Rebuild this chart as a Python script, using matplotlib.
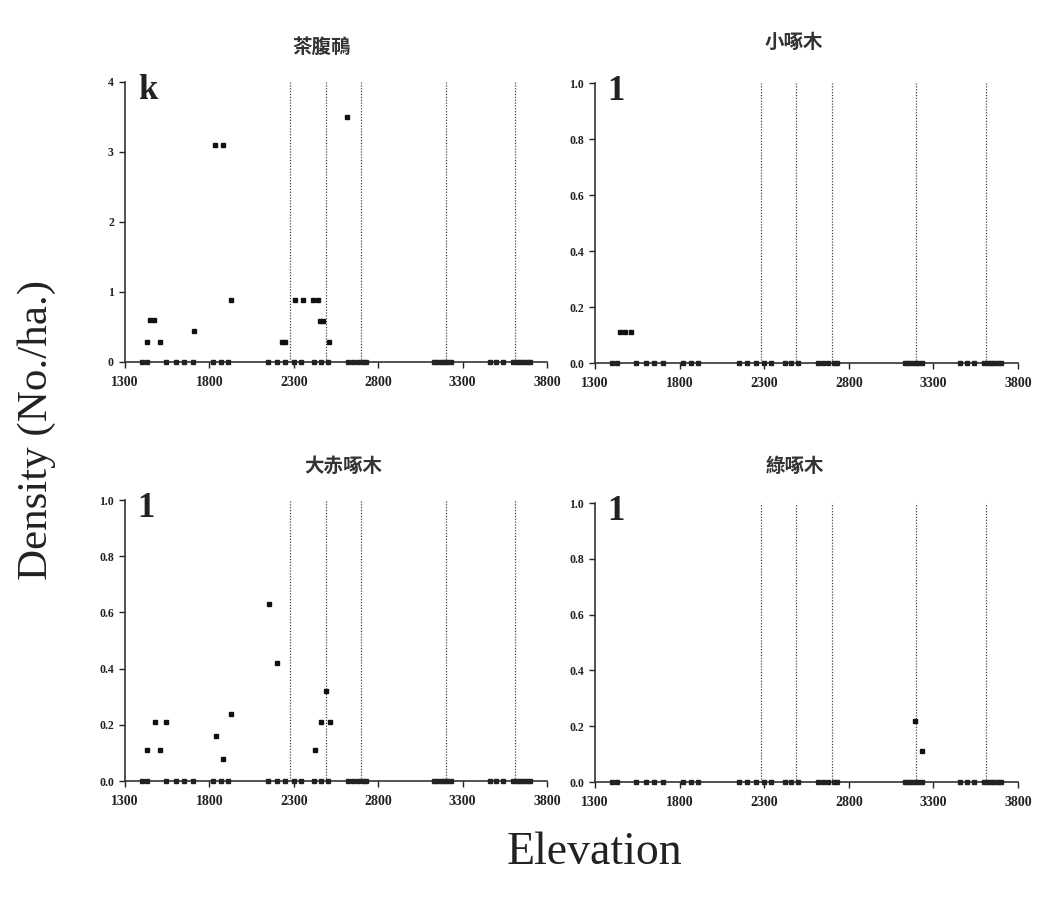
import numpy as np
import matplotlib.pyplot as plt

# survey sites where each species was recorded as absent (density 0)
zero_sites = [1400, 1430, 1540, 1600, 1650, 1700, 1820, 1870, 1910, 2150, 2200,
              2250, 2300, 2340, 2420, 2460, 2500, 2620, 2650, 2680, 2710, 2730,
              3130, 3150, 3170, 3190, 3210, 3230, 3460, 3500, 3540, 3600, 3620,
              3640, 3660, 3680, 3700]

# zone boundaries (dotted lines)
zone_lines = [2280, 2490, 2700, 3200, 3610]

titles = ['茶腹鳾', '小啄木', '大赤啄木', '綠啄木']
letters = ['k', '1', '1', '1']

nuthatch_x = [1428, 1448, 1470, 1507, 1710, 1833, 1879, 1926, 2228, 2248,
              2307, 2356, 2416, 2445, 2455, 2475, 2511, 2617]
nuthatch_y = [0.29, 0.6, 0.6, 0.29, 0.44, 3.1, 3.1, 0.88, 0.29, 0.29,
              0.88, 0.88, 0.88, 0.88, 0.59, 0.59, 0.29, 3.5]

pygmy_x = [1450, 1480, 1510]
pygmy_y = [0.11, 0.11, 0.11]

spotted_x = [1428, 1478, 1507, 1541, 1839, 1882, 1928, 2153, 2202, 2426,
             2461, 2489, 2514]
spotted_y = [0.11, 0.21, 0.11, 0.21, 0.16, 0.08, 0.24, 0.63, 0.42, 0.11,
             0.21, 0.32, 0.21]

green_x = [3192, 3231]
green_y = [0.22, 0.11]

series = [(nuthatch_x, nuthatch_y), (pygmy_x, pygmy_y),
          (spotted_x, spotted_y), (green_x, green_y)]
ymax = [4, 1.0, 1.0, 1.0]
xticks = [1300, 1800, 2300, 2800, 3300, 3800]

plt.rcParams['font.family'] = ['Liberation Serif', 'DejaVu Serif']
cjk = ['Noto Sans CJK TC', 'DejaVu Sans']

fig = plt.figure(figsize=(10.61, 8.97), dpi=100)
W, H = 1061, 897
# pixel boxes: left, top, right, bottom
boxes = [(125, 82, 547, 362), (595, 83, 1018, 363),
         (125, 500, 547, 781), (595, 503, 1018, 782)]
# title centres in pixels
title_pos = [(322, 47), (794, 42), (343, 466), (795, 466)]

for i, (l, t, r, b) in enumerate(boxes):
    ax = fig.add_axes([l / W, 1 - b / H, (r - l) / W, (b - t) / H])
    xs, ys = series[i]
    for zl in zone_lines:
        ax.plot([zl, zl], [0, ymax[i]], ls=(0, (1, 1.3)), color='#444444',
                lw=0.9, zorder=1)
    ax.plot(zero_sites, np.zeros(len(zero_sites)), 's', ms=2.2, color='#222222',
            zorder=3, clip_on=False)
    ax.plot(xs, ys, 's', ms=2.8, color='#111111', zorder=3)
    ax.set_xlim(1300, 3800)
    ax.set_ylim(0, ymax[i])
    ax.set_xticks(xticks)
    if i == 0:
        ax.set_yticks([0, 1, 2, 3, 4])
        ax.set_yticklabels(['0', '1', '2', '3', '4'])
    else:
        ax.set_yticks(np.arange(0, 1.01, 0.2))
        ax.set_yticklabels(['%.1f' % v for v in np.arange(0, 1.01, 0.2)])
    for s in ['top', 'right']:
        ax.spines[s].set_visible(False)
    for s in ['left', 'bottom']:
        ax.spines[s].set_linewidth(1.2)
        ax.spines[s].set_color('#333333')
    ax.tick_params(direction='out', length=4, width=1, colors='#222222')
    ax.tick_params(axis='x', labelsize=10, pad=6)
    ax.tick_params(axis='y', labelsize=8.5, pad=4)
    for lab in ax.get_xticklabels() + ax.get_yticklabels():
        lab.set_fontweight('bold')
    ax.text(0.03, 1.03, letters[i], transform=ax.transAxes, fontsize=25,
            fontweight='bold', va='top', ha='left', color='#222222')
    tx, ty = title_pos[i]
    fig.text(tx / W, 1 - ty / H, titles[i], family=cjk, fontsize=14,
             fontweight='bold', ha='center', va='center', color='#333333')

fig.text(37 / W, 1 - 430 / H, 'Density (No./ha.)', rotation=90, fontsize=31,
         ha='center', va='center', color='#222222')
fig.text(594 / W, 1 - 864 / H, 'Elevation', fontsize=33, ha='center',
         va='baseline', color='#222222')

fig.savefig('out.png', dpi=100)
